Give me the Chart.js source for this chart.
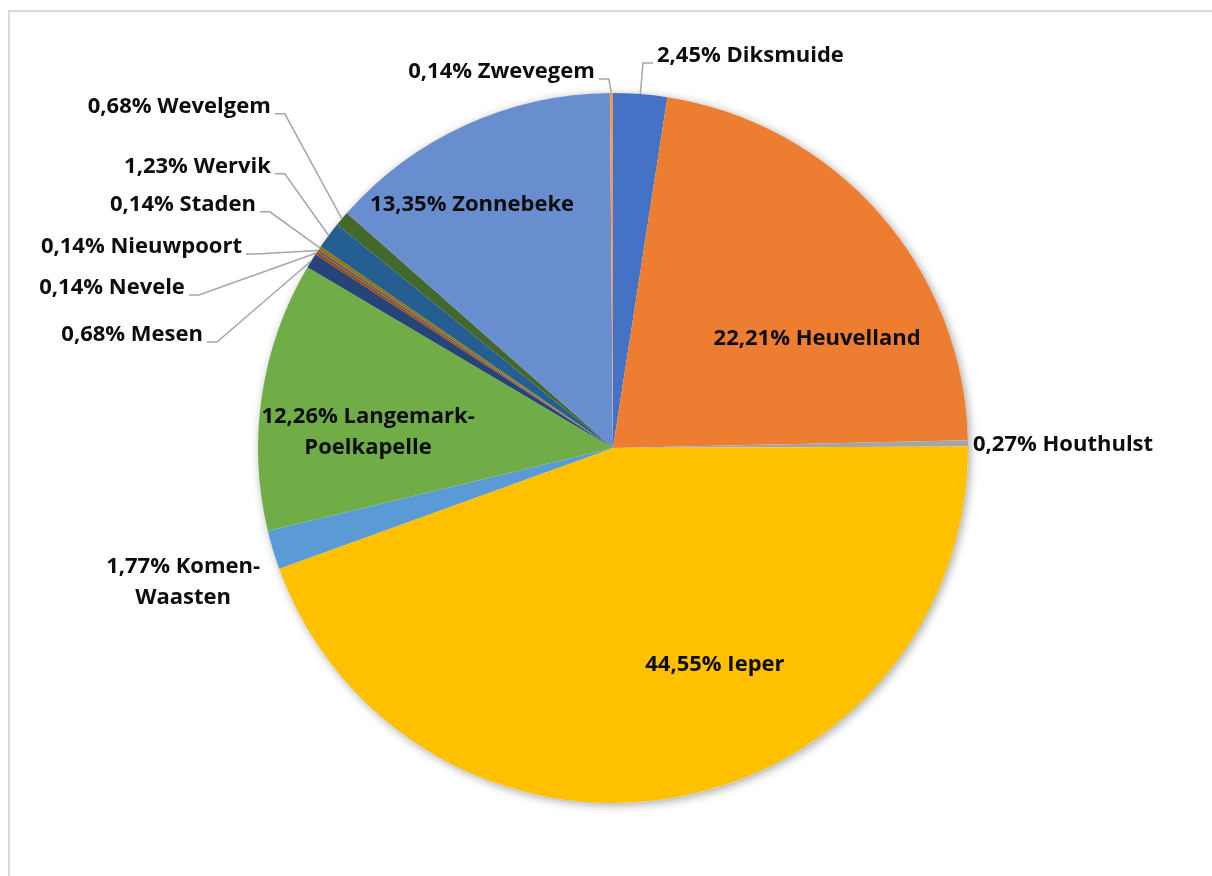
<!DOCTYPE html>
<html>
<head>
<meta charset="utf-8">
<script src="https://cdn.jsdelivr.net/npm/chart.js@4"></script>
<style>
  html, body { margin: 0; padding: 0; background: #fff; }
  canvas { display: block; }
</style>
</head>
<body>
<canvas id="gemeenten" width="1212" height="876"></canvas>
<script>
const gemeenten = [
    "Diksmuide", "Heuvelland", "Houthulst", "Ieper", "Komen-Waasten",
    "Langemark-Poelkapelle", "Mesen", "Nevele", "Nieuwpoort", "Staden",
    "Wervik", "Wevelgem", "Zonnebeke", "Zwevegem"
];
const aandeel = [2.45, 22.21, 0.27, 44.55, 1.77, 12.26, 0.68, 0.14, 0.14, 0.14, 1.23, 0.68, 13.35, 0.14];
const kleuren = [
    "#4472C4", "#ED7D31", "#A5A5A5", "#FFC000", "#5B9BD5",
    "#70AD47", "#264478", "#9E480E", "#636363", "#997300",
    "#255E91", "#43682B", "#698ED0", "#F1975A"
];

// waar de labels staan, in straal-eenheden t.o.v. het middelpunt
const labelPlaats = [
    { x: 0.124, y: -1.104, align: "left", lijn: true },    // Diksmuide
    { x: 0.575, y: -0.307, align: "center" },              // Heuvelland
    { x: 1.014, y: -0.008, align: "left" },                // Houthulst
    { x: 0.287, y: 0.611, align: "center" },               // Ieper
    { x: -1.211, y: 0.377, align: "center", breek: true }, // Komen-Waasten
    { x: -0.690, y: -0.044, align: "center", breek: true },// Langemark-Poelkapelle
    { x: -1.155, y: -0.318, align: "right", lijn: true },  // Mesen
    { x: -1.206, y: -0.451, align: "right", lijn: true },  // Nevele
    { x: -1.045, y: -0.566, align: "right", lijn: true },  // Nieuwpoort
    { x: -1.006, y: -0.685, align: "right", lijn: true },  // Staden
    { x: -0.964, y: -0.792, align: "right", lijn: true },  // Wervik
    { x: -0.964, y: -0.961, align: "right", lijn: true },  // Wevelgem
    { x: -0.397, y: -0.685, align: "center" },             // Zonnebeke
    { x: -0.051, y: -1.059, align: "right", lijn: true }   // Zwevegem
];

const kader = {
    id: "kader",
    beforeDraw(chart) {
        const ctx = chart.ctx;
        ctx.save();
        ctx.strokeStyle = "#d9d9d9";
        ctx.lineWidth = 2;
        ctx.strokeRect(9, 11, 1240, 900);
        ctx.restore();
    },
    beforeDatasetsDraw(chart) {
        // zachte schaduw achter de taart
        const arc = chart.getDatasetMeta(0).data[0];
        const { x, y, outerRadius } = arc.getProps(["x", "y", "outerRadius"], true);
        const ctx = chart.ctx;
        ctx.save();
        ctx.shadowColor = "rgba(0, 0, 0, 0.35)";
        ctx.shadowBlur = 10;
        ctx.shadowOffsetX = 2;
        ctx.shadowOffsetY = 2;
        ctx.beginPath();
        ctx.arc(x, y, outerRadius, 0, Math.PI * 2);
        ctx.fillStyle = "#fff";
        ctx.fill();
        ctx.restore();
    }
};

const labels = {
    id: "labels",
    afterDatasetsDraw(chart) {
        const ctx = chart.ctx;
        const meta = chart.getDatasetMeta(0);
        ctx.save();
        ctx.font = "bold 22px 'Open Sans'";
        ctx.textBaseline = "middle";
        meta.data.forEach(function (arc, i) {
            const p = arc.getProps(["x", "y", "startAngle", "endAngle", "outerRadius"], true);
            const plaats = labelPlaats[i];
            const tx = p.x + plaats.x * p.outerRadius;
            const ty = p.y + plaats.y * p.outerRadius;
            const tekst = aandeel[i].toFixed(2).replace(".", ",") + "% " + gemeenten[i];

            let regels = [tekst];
            if (plaats.breek) {
                const k = tekst.indexOf("-") + 1;
                regels = [tekst.slice(0, k), tekst.slice(k)];
            }

            if (plaats.lijn) {
                const mid = (p.startAngle + p.endAngle) / 2;
                const ax = p.x + Math.cos(mid) * p.outerRadius;
                const ay = p.y + Math.sin(mid) * p.outerRadius;
                const kant = plaats.align === "right" ? 1 : -1;
                ctx.beginPath();
                ctx.moveTo(tx + kant * 4, ty + 7);
                ctx.lineTo(tx + kant * 14, ty + 7);
                ctx.lineTo(ax, ay);
                ctx.strokeStyle = "#a6a6a6";
                ctx.lineWidth = 1.5;
                ctx.stroke();
            }

            ctx.fillStyle = "#0d0d0d";
            ctx.textAlign = plaats.align;
            const hoogte = 31;
            regels.forEach(function (r, j) {
                ctx.fillText(r, tx, ty + (j - (regels.length - 1) / 2) * hoogte);
            });
        });
        ctx.restore();
    }
};

new Chart(document.getElementById("gemeenten"), {
    type: "pie",
    data: {
        labels: gemeenten,
        datasets: [
            {
                data: aandeel,
                backgroundColor: kleuren,
                borderWidth: 0,
                hoverOffset: 0,
            },
        ],
    },
    options: {
        responsive: false,
        animation: false,
        layout: {
            padding: { top: 93, bottom: 73, left: 20, right: 6 },
        },
        plugins: {
            legend: { display: false },
            tooltip: { enabled: false },
        },
    },
    plugins: [kader, labels],
});
</script>
</body>
</html>
